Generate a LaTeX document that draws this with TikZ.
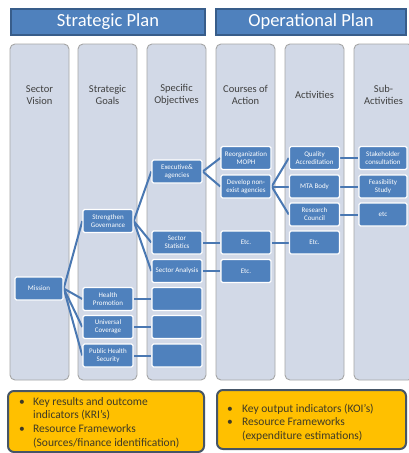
\documentclass[tikz,border=0pt]{standalone}
\usepackage{fontspec}
\setmainfont{Carlito}
\usepackage{array}
\pgfdeclarelayer{colslayer}
\pgfdeclarelayer{linkslayer}
\pgfsetlayers{colslayer,linkslayer,main}
\definecolor{nodeblue}{HTML}{4F81BD}
\definecolor{barborder}{HTML}{385D8A}
\definecolor{linkblue}{HTML}{4A78B2}
\definecolor{colfill}{HTML}{D2D9E7}
\definecolor{colborder}{HTML}{A6A6A6}
\definecolor{kyellow}{HTML}{FFC000}
\definecolor{kborder}{HTML}{465566}
\definecolor{ktext}{HTML}{3F3A26}
\definecolor{htext}{HTML}{404040}
\tikzset{
  planbar/.style={draw=barborder, fill=nodeblue, line width=1.2pt, text=white,
    font=\fontsize{18.5}{20}\selectfont},
  column/.style={draw=colborder, fill=colfill, line width=0.9pt, rounded corners=5pt},
  colhead/.style={text=htext, font=\fontsize{10.5}{12.5}\selectfont, align=center},
  blk/.style={draw=white, fill=nodeblue, line width=1.4pt, rounded corners=1.5pt,
    text=white, font=\fontsize{7}{8}\selectfont, align=center,
    minimum width=50pt, minimum height=23pt, inner sep=0pt},
  link/.style={draw=linkblue, line width=2pt},
  kbox/.style={draw=kborder, fill=kyellow, line width=2pt, rounded corners=6pt},
  ktxt/.style={text=ktext, font=\fontsize{11.5}{13.7}\selectfont, anchor=north west, inner sep=0pt, align=left}
}
\begin{document}
\begin{tikzpicture}[x=1pt,y=-1pt]
\useasboundingbox (0,0) rectangle (408,453);
\clip (0,0) rectangle (408,453);
\begin{pgfonlayer}{colslayer}
\fill[white] (0,0) rectangle (408,453);
\foreach \x in {10,78,147,216,285,354}{
  \draw[column] (\x,44) rectangle ++(59,336);
}
\end{pgfonlayer}
% header bars
\node[planbar, minimum width=194pt, minimum height=26pt, inner sep=0pt] (sp) at (108,22) {Strategic Plan};
\node[planbar, minimum width=190pt, minimum height=26pt, inner sep=0pt] (op) at (311,22) {Operational Plan};
% column headings
\node[colhead] (h1) at (39.5,95) {Sector\\Vision};
\node[colhead] (h2) at (107.5,95) {Strategic\\Goals};
\node[colhead] (h3) at (176.5,95) {Specific\\Objectives};
\node[colhead] (h4) at (245.5,95) {Courses of\\Action};
\node[colhead] (h5) at (314.5,95) {Activities};
\node[colhead] (h6) at (383.5,95) {Sub-\\Activities};
% nodes
\node[blk, minimum width=48pt] (mis) at (39,288.5) {Mission};
\node[blk] (sg) at (108,221) {Strengthen\\Governance};
\node[blk] (hp) at (108,299) {Health\\Promotion};
\node[blk] (uc) at (108,327) {Universal\\Coverage};
\node[blk] (phs) at (108,355.5) {Public Health\\Security};
\node[blk] (exa) at (177,171.5) {Executive\&\\agencies};
\node[blk] (ss) at (177,242.5) {Sector\\Statistics};
\node[blk] (sa) at (177,271) {Sector Analysis};
\node[blk] (b1) at (177,299) {};
\node[blk] (b2) at (177,327) {};
\node[blk] (b3) at (177,355.5) {};
\node[blk] (reo) at (246,158) {Reorganization\\MOPH};
\node[blk] (dev) at (246,186.5) {Develop non-\\exist agencies};
\node[blk] (e41) at (246,242.5) {Etc.};
\node[blk] (e42) at (246,271) {Etc.};
\node[blk] (qa) at (314.5,158) {Quality\\Accreditation};
\node[blk] (mta) at (314.5,186.5) {MTA Body};
\node[blk] (rc) at (314.5,214.5) {Research\\Council};
\node[blk] (e51) at (314.5,242.5) {Etc.};
\node[blk, minimum width=48pt] (sh) at (383,158) {Stakeholder\\consultation};
\node[blk, minimum width=48pt] (fs) at (383,186.5) {Feasibility\\Study};
\node[blk, minimum width=48pt] (et6) at (383,214.5) {etc};
% connectors
\begin{pgfonlayer}{linkslayer}
\foreach \t in {sg,hp,uc,phs} \draw[link] (mis.east) -- (\t.west);
\foreach \t in {exa,ss,sa} \draw[link] (sg.east) -- (\t.west);
\draw[link] (hp) -- (b1);
\draw[link] (uc) -- (b2);
\draw[link] (phs) -- (b3);
\foreach \t in {reo,dev} \draw[link] (exa.east) -- (\t.west);
\draw[link] (ss) -- (e41);
\draw[link] (sa) -- (e42);
\foreach \t in {qa,mta,rc} \draw[link] (dev.east) -- (\t.west);
\draw[link] (e41) -- (e51);
\draw[link] (qa) -- (sh);
\draw[link] (mta) -- (fs);
\draw[link] (rc) -- (et6);
\end{pgfonlayer}
% bottom boxes
\draw[kbox] (8,391) rectangle (204,452);
\draw[kbox] (217,390) rectangle (406,449);
\node[ktxt] (lt) at (19,395.5) {%
\begin{tabular}{@{}p{14pt}@{}l@{}}
\textbullet & Key results and outcome\\
 & indicators (KRI’s)\\
\textbullet & Resource Frameworks\\
 & (Sources/finance identification)
\end{tabular}};
\node[ktxt] (rt) at (227,402.5) {%
\begin{tabular}{@{}p{15pt}@{}l@{}}
\textbullet & Key output indicators (KOI’s)\\
\textbullet & Resource Frameworks\\
 & (expenditure estimations)
\end{tabular}};
\end{tikzpicture}
\end{document}
